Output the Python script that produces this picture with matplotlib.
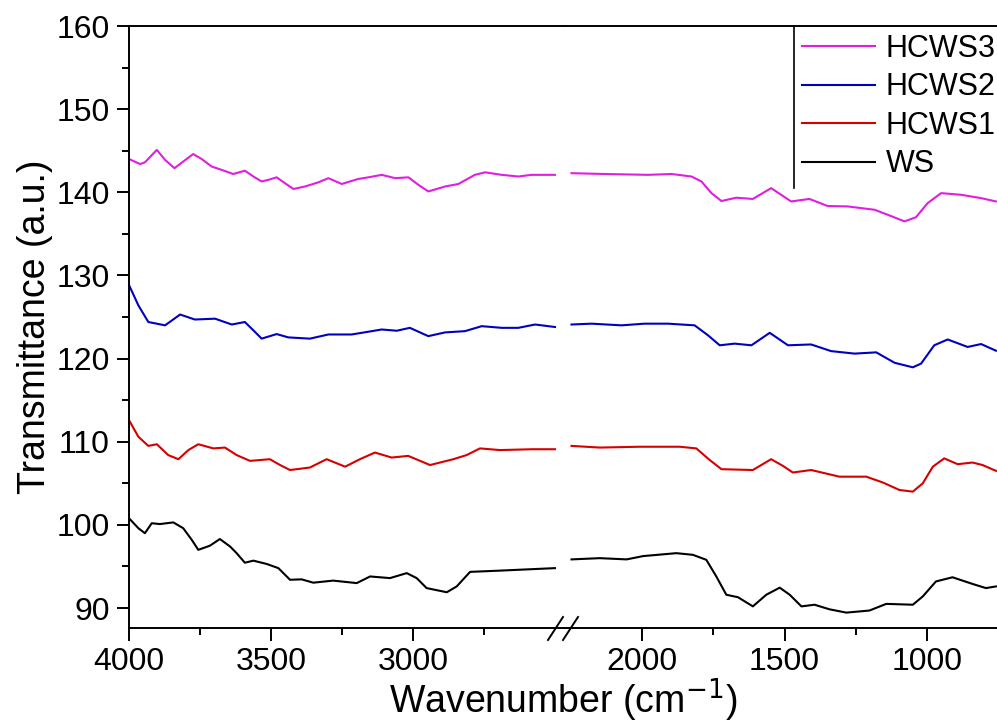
import numpy as np
import matplotlib
matplotlib.use("Agg")
import matplotlib.pyplot as plt
from matplotlib.lines import Line2D

plt.rcParams['font.family'] = ['Liberation Sans', 'DejaVu Sans']

# FTIR spectra, wavenumber (cm-1) vs stacked transmittance
ws3 = [4000, 3961, 3944, 3902, 3873, 3840, 3809, 3774, 3744, 3709, 3674, 3633, 3592, 3562,
       3533, 3509, 3480, 3451, 3421, 3380, 3333, 3298, 3251, 3193, 3157, 3110, 3063, 3016,
       2981, 2946, 2887, 2840, 2782, 2746, 2688, 2629, 2582, 2500,
       2246, 2129, 1978, 1896, 1826, 1791, 1756, 1721, 1669, 1611, 1547, 1512, 1477, 1413,
       1349, 1279, 1185, 1139, 1080, 1040, 999, 952, 882, 812, 760]
hcws3 = [144.0, 143.4, 143.6, 145.1, 143.9, 142.9, 143.7, 144.6, 144.0, 143.1, 142.7, 142.2, 142.6, 141.9,
         141.3, 141.5, 141.8, 141.1, 140.4, 140.7, 141.2, 141.7, 141.0, 141.6, 141.8, 142.1, 141.7, 141.8,
         140.9, 140.1, 140.7, 141.0, 142.1, 142.4, 142.1, 141.9, 142.1, 142.1,
         142.3, 142.2, 142.1, 142.2, 141.9, 141.3, 139.9, 138.95, 139.35, 139.2, 140.5, 139.7, 138.9, 139.2,
         138.35, 138.3, 137.9, 137.3, 136.5, 137.0, 138.7, 139.9, 139.7, 139.3, 138.9]

ws2 = [4000, 3967, 3932, 3873, 3820, 3768, 3697, 3638, 3592, 3562, 3533, 3480, 3439, 3363,
       3298, 3216, 3110, 3057, 3011, 2946, 2887, 2817, 2758, 2688, 2629, 2570, 2500,
       2246, 2176, 2071, 1990, 1908, 1815, 1768, 1727, 1675, 1616, 1552, 1488, 1407, 1337,
       1255, 1179, 1115, 1051, 1022, 976, 929, 859, 812, 760]
hcws2 = [128.85, 126.4, 124.4, 124.0, 125.3, 124.7, 124.8, 124.1, 124.4, 123.4, 122.4, 122.95, 122.55, 122.4,
         122.9, 122.9, 123.5, 123.35, 123.7, 122.7, 123.15, 123.3, 123.9, 123.7, 123.7, 124.1, 123.8,
         124.1, 124.2, 124.0, 124.2, 124.2, 124.0, 122.8, 121.6, 121.8, 121.6, 123.1, 121.6, 121.7, 120.9,
         120.6, 120.75, 119.5, 118.95, 119.4, 121.6, 122.3, 121.4, 121.75, 120.95]

ws1 = [4000, 3967, 3932, 3902, 3862, 3826, 3791, 3756, 3703, 3662, 3621, 3574, 3504, 3468,
       3433, 3363, 3304, 3239, 3187, 3134, 3075, 3017, 2940, 2858, 2811, 2764, 2694, 2578, 2500,
       2246, 2147, 2007, 1867, 1809, 1762, 1721, 1611, 1547, 1506, 1471, 1407, 1308, 1214,
       1156, 1098, 1051, 1016, 981, 941, 894, 842, 807, 760]
hcws1 = [112.6, 110.6, 109.5, 109.7, 108.4, 107.9, 109.0, 109.7, 109.2, 109.3, 108.4, 107.7, 107.9, 107.2,
         106.6, 106.9, 107.9, 107.0, 107.9, 108.7, 108.1, 108.3, 107.2, 107.9, 108.4, 109.2, 109.0, 109.1, 109.1,
         109.5, 109.3, 109.4, 109.4, 109.2, 107.8, 106.7, 106.6, 107.9, 107.1, 106.3, 106.6, 105.8, 105.8,
         105.1, 104.2, 104.0, 105.0, 107.0, 108.0, 107.3, 107.5, 107.2, 106.5]

ws0 = [4000, 3967, 3944, 3920, 3891, 3844, 3809, 3779, 3756, 3715, 3680, 3644, 3621, 3592,
       3562, 3515, 3474, 3433, 3392, 3351, 3281, 3198, 3151, 3081, 3022, 2987, 2952, 2881,
       2846, 2799, 2694, 2500,
       2246, 2147, 2053, 1995, 1879, 1821, 1774, 1739, 1704, 1663, 1611, 1564, 1517, 1482,
       1441, 1395, 1343, 1284, 1203, 1144, 1051, 1016, 970, 912, 842, 795, 760]
ws = [100.8, 99.6, 99.0, 100.2, 100.1, 100.3, 99.6, 98.2, 97.0, 97.5, 98.3, 97.4, 96.6, 95.45,
      95.7, 95.3, 94.8, 93.4, 93.45, 93.05, 93.3, 93.0, 93.8, 93.6, 94.2, 93.6, 92.4, 91.9,
      92.6, 94.35, 94.5, 94.8,
      95.85, 96.0, 95.85, 96.25, 96.6, 96.4, 95.8, 93.8, 91.6, 91.3, 90.2, 91.6, 92.45, 91.6,
      90.2, 90.4, 89.85, 89.45, 89.7, 90.5, 90.4, 91.4, 93.2, 93.7, 92.9, 92.4, 92.6]

series = [
    ("HCWS3", ws3, hcws3, "#e01ee0"),
    ("HCWS2", ws2, hcws2, "#0000c0"),
    ("HCWS1", ws1, hcws1, "#d60000"),
    ("WS", ws0, ws, "black"),
]

fig = plt.figure(figsize=(9.97, 7.24), dpi=100)
W, H = 997.0, 724.0
bottom = 1 - 628 / H
height = (628 - 26) / H
ax_l = fig.add_axes([129 / W, bottom, (563.5 - 129) / W, height])
ax_r = fig.add_axes([563.5 / W, bottom, (996.5 - 563.5) / W, height], sharey=ax_l)

handles = []
for name, x, y, c in series:
    x = np.array(x)
    y = np.array(y)
    m = x >= 2500
    ln, = ax_l.plot(x[m], y[m], color=c, lw=1.5)
    ax_r.plot(x[~m], y[~m], color=c, lw=1.5)
    handles.append(ln)

ax_l.set_xlim(4000, 2470)
ax_r.set_xlim(2274, 758)
ax_l.set_ylim(87.6, 160)

ax_l.set_xticks([4000, 3500, 3000])
ax_l.set_xticks([3750, 3250, 2750], minor=True)
ax_r.set_xticks([2000, 1500, 1000])
ax_r.set_xticks([1750, 1250], minor=True)
ax_l.set_yticks(np.arange(90, 161, 10))
ax_l.set_yticks(np.arange(95, 160, 10), minor=True)

for ax in (ax_l, ax_r):
    for s in ax.spines.values():
        s.set_linewidth(1.4)
    ax.tick_params(which='major', direction='out', length=9, width=1.4, labelsize=23, pad=5)
    ax.tick_params(which='minor', direction='out', length=5, width=1.4)
    ax.tick_params(top=False, right=False, which='both')

ax_l.spines['right'].set_visible(False)
ax_r.spines['left'].set_visible(False)
ax_r.spines['right'].set_linewidth(0.6)
ax_r.spines['right'].set_color('#c8c8c8')
ax_r.tick_params(axis='y', which='both', left=False, labelleft=False)

ax_l.set_ylabel("Transmittance (a.u.)", fontsize=27, labelpad=2)
fig.text(563.5 / W, 1 - 700 / H, "Wavenumber (cm$^{-1}$)", fontsize=27,
         ha='center', va='center')

# axis break marks on the bottom spine
yb = 1 - 628 / H
for x0 in (548, 563):
    fig.add_artist(Line2D([x0 / W, (x0 + 15) / W], [yb - 12 / H, yb + 11 / H],
                          color='black', lw=1.4))

leg = ax_r.legend(handles, [s[0] for s in series], loc='upper left',
                  bbox_to_anchor=(794 / W, 1 - 26 / H), bbox_transform=fig.transFigure,
                  frameon=False, fontsize=22, handlelength=2.4, handletextpad=0.35,
                  labelspacing=0.28, borderpad=0.25, borderaxespad=0)
fig.add_artist(Line2D([794 / W, 794 / W], [1 - 26 / H, 1 - 188 / H], color='black', lw=1.2))

fig.savefig("out.png", dpi=100)
